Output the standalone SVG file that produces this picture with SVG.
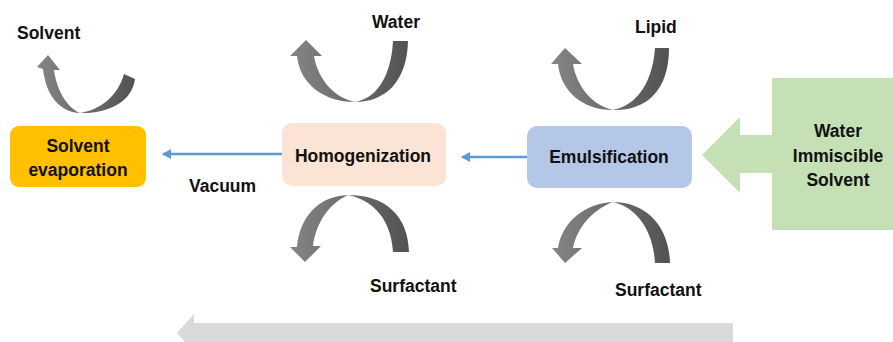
<svg xmlns="http://www.w3.org/2000/svg" width="893" height="342" viewBox="0 0 893 342">
<style>
text{font-family:"Liberation Sans",Arial,sans-serif;font-weight:bold;font-size:17.5px;fill:#111}
.c{text-anchor:middle}
.curve{fill:url(#g)}
.link{stroke:#5B9BD5;stroke-width:2.5;fill:none}
</style>
<defs>
<linearGradient id="g" x1="0" y1="0" x2="1" y2="0">
<stop offset="0" stop-color="#858585"/>
<stop offset="1" stop-color="#525252"/>
</linearGradient>
<marker id="ah" markerWidth="10" markerHeight="10" refX="8" refY="5" orient="auto" markerUnits="userSpaceOnUse">
<path d="M0,0 L9,5 L0,10 Z" fill="#5B9BD5"/>
</marker>
</defs>
<rect width="893" height="342" fill="#fff"/>
<g id="bottom-arrow">
<path d="M733,323 L194,323 L194,314 L177,333 L194,352 L194,343 L733,343 Z" fill="#D9D9D9"/>
</g>
<g id="connectors">
<line class="link" x1="282" y1="154" x2="163" y2="154" marker-end="url(#ah)"/>
<line class="link" x1="527" y1="157" x2="462" y2="157" marker-end="url(#ah)"/>
</g>
<g id="solvent-evaporation">
<rect x="10" y="126" width="136" height="61" rx="9" fill="#FFC000"/>
<text class="c" x="78" y="152">Solvent</text>
<text class="c" x="78" y="176">evaporation</text>
</g>
<g id="homogenization">
<rect x="282" y="123" width="164" height="63" rx="10" fill="#FBE3D5"/>
<text class="c" x="363" y="162">Homogenization</text>
</g>
<g id="emulsification">
<rect x="527" y="126" width="165" height="62" rx="10" fill="#B4C7E7"/>
<text class="c" x="609" y="163">Emulsification</text>
</g>
<g id="water-immiscible-solvent">
<path d="M893,78 L772,78 L772,135 L740,135 L740,117 L702,155 L740,193 L740,173 L772,173 L772,230 L893,230 Z" fill="#C5E0B4"/>
<text class="c" x="838" y="137">Water</text>
<text class="c" x="838" y="162">Immiscible</text>
<text class="c" x="838" y="186">Solvent</text>
</g>
<g id="solvent-out">
<path class="curve" d="M124,74 L135,79 C132,102 108,114 80,113 C60,112 46,96 43,69 L37,67 L48,55 L60,70 L54,70 C57,92 68,108 80,113 C100,110 118,96 124,74 Z"/>
<text x="17" y="39">Solvent</text>
</g>
<g id="water-in">
<path class="curve" d="M393,41 L408,41 C407,82 385,102 355,102 C325,102 300,85 297,56 L290,56 L306,40 L322,56 L314,56 C318,80 335,98 355,102 C374,99 391,80 393,41 Z"/>
<text x="372" y="28">Water</text>
</g>
<g id="lipid-in">
<path class="curve" d="M655,48 L669,48 C669,92 645,111 613,110 C583,110 561,92 558,64 L551,64 L565,48 L582,64 L573,64 C577,88 594,106 613,110 C633,106 652,88 655,48 Z"/>
<text x="635" y="33">Lipid</text>
</g>
<g id="surfactant-homog">
<path class="curve" d="M393,252 L409,252 C408,215 385,195 348,195 C320,196 300,215 297,247 L290,247 L305,262 L321,246 L313,246 C316,222 330,203 348,195 C372,200 391,218 393,252 Z"/>
<text x="370" y="292">Surfactant</text>
</g>
<g id="surfactant-emul">
<path class="curve" d="M655,263 L670,263 C669,225 645,202 613,202 C585,203 562,222 558,248 L552,248 L565,263 L582,248 L573,248 C577,228 592,210 613,202 C635,207 653,228 655,263 Z"/>
<text x="615" y="296">Surfactant</text>
</g>
<g id="vacuum">
<text x="189" y="192">Vacuum</text>
</g>
</svg>
